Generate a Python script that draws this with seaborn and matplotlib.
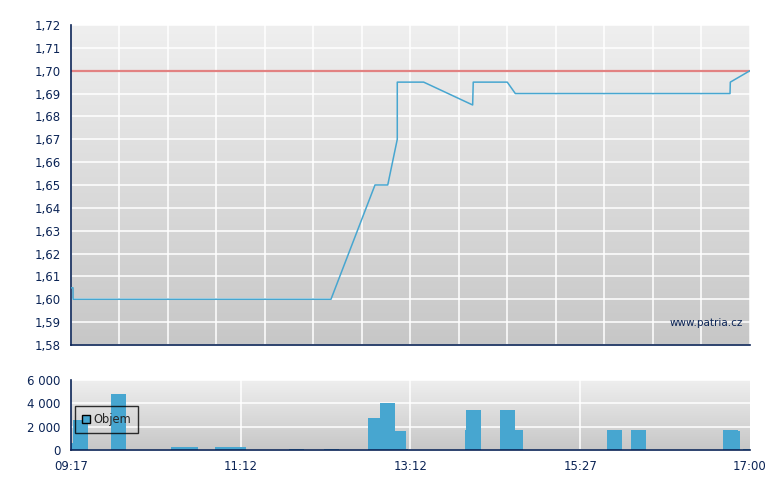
import numpy as np
import pandas as pd
import seaborn as sns
import matplotlib.pyplot as plt
from matplotlib.colors import LinearSegmentedColormap
from matplotlib.patches import Patch
from matplotlib.ticker import FuncFormatter

# price path, x = minutes from session start (09:17 .. 17:00 -> 0 .. 463)
price_min = [0, 1.4, 1.4, 177.3, 207.3, 216.0, 222.5, 222.5, 240.5, 273.9, 274.3, 297.5, 303.0, 449.4, 449.6, 463]
price_val = [1.605, 1.605, 1.60, 1.60, 1.65, 1.65, 1.67, 1.695, 1.695, 1.685, 1.695, 1.695, 1.69, 1.69, 1.695, 1.70]
ref_price = 1.70

# volume bars: start, end (minutes) and volume
vol_start = [0, 1.4, 27.3, 68.2, 98.2, 148.7, 172.5, 202.5, 210.7, 220.7, 228.2, 268.7, 269.4, 292.5, 302.8, 365.5, 381.6, 444.6, 454.8, 458.2]
vol_end = [1.4, 11.4, 37.5, 86.6, 119.3, 158.9, 182.7, 210.7, 220.7, 228.2, 229.8, 269.4, 279.6, 302.8, 308.3, 375.7, 391.8, 454.8, 456.1, 463]
vol_val = [600, 2600, 4800, 250, 280, 100, 100, 2700, 4000, 1600, 60, 1700, 3400, 3400, 1700, 1700, 1700, 1700, 1650, 100]

time_labels = ['09:17', '11:12', '13:12', '15:27', '17:00']
total_min = 463

navy = '#0b2456'
blue = '#47a6d0'

sns.set_style('white')
plt.rcParams['font.family'] = ['DejaVu Sans']

fig = plt.figure(figsize=(7.8, 4.9), dpi=100)
ax = fig.add_axes([0.091, 0.296, 0.8705, 0.653])
axv = fig.add_axes([0.091, 0.0816, 0.8705, 0.143])

grad = LinearSegmentedColormap.from_list('g', ['#c7c7c7', '#efefef'])
for a in (ax, axv):
    a.imshow(np.linspace(0, 1, 256).reshape(-1, 1), cmap=grad, origin='lower',
             extent=[0, 1, 0, 1], transform=a.transAxes, aspect='auto', zorder=0)
    a.set_axisbelow(True)
    a.grid(True, color='white', lw=1.1)
    for s in ('top', 'right'):
        a.spines[s].set_visible(False)
    for s in ('left', 'bottom'):
        a.spines[s].set_color(navy)
        a.spines[s].set_linewidth(1.2)
    a.tick_params(direction='out', length=4, width=1, color=navy, labelcolor=navy, labelsize=8.5)
    a.set_xlim(0, total_min)

# price panel
df = pd.DataFrame({'t': price_min, 'p': price_val})
ax.axhline(ref_price, color='#e07575', lw=1.6, alpha=0.9, zorder=2)
sns.lineplot(data=df, x='t', y='p', sort=False, estimator=None, color=blue, lw=1.1, ax=ax, zorder=3)
ax.set_ylim(1.58, 1.72)
ax.set_yticks(np.round(np.arange(1.58, 1.7201, 0.01), 2))
ax.yaxis.set_major_formatter(FuncFormatter(lambda v, p: f'{v:.2f}'.replace('.', ',')))
ax.set_xticks(np.linspace(0, total_min, 15))
ax.set_xticklabels([])
ax.set_xlabel('')
ax.set_ylabel('')
ax.text(0.99, 0.068, 'www.patria.cz', transform=ax.transAxes, ha='right', va='center',
        fontsize=7.5, color=navy)

# volume panel
axv.bar(vol_start, vol_val, width=np.array(vol_end) - np.array(vol_start), align='edge',
        color=blue, lw=0, zorder=2)
axv.set_ylim(0, 6000)
axv.set_yticks([0, 2000, 4000, 6000])
axv.yaxis.set_major_formatter(FuncFormatter(lambda v, p: f'{int(v):,}'.replace(',', ' ')))
axv.set_xticks(np.linspace(0, total_min, 5))
axv.set_xticklabels(time_labels)
axv.grid(False, axis='x')
for xv in np.linspace(0, total_min, 5)[1:-1]:
    axv.axvline(xv, color='white', lw=1.1, zorder=1)
leg = axv.legend(handles=[Patch(facecolor=blue, edgecolor='black', lw=1, label='Objem')],
                 loc='lower left', bbox_to_anchor=(0.006, 0.245), frameon=True, fancybox=False,
                 fontsize=8.3, handlelength=0.7, handleheight=0.7, handletextpad=0.3,
                 borderpad=0.6, borderaxespad=0)
leg.get_frame().set_edgecolor('black')
leg.get_frame().set_facecolor('none')
leg.get_frame().set_linewidth(1)

fig.savefig('out.png', dpi=100)
